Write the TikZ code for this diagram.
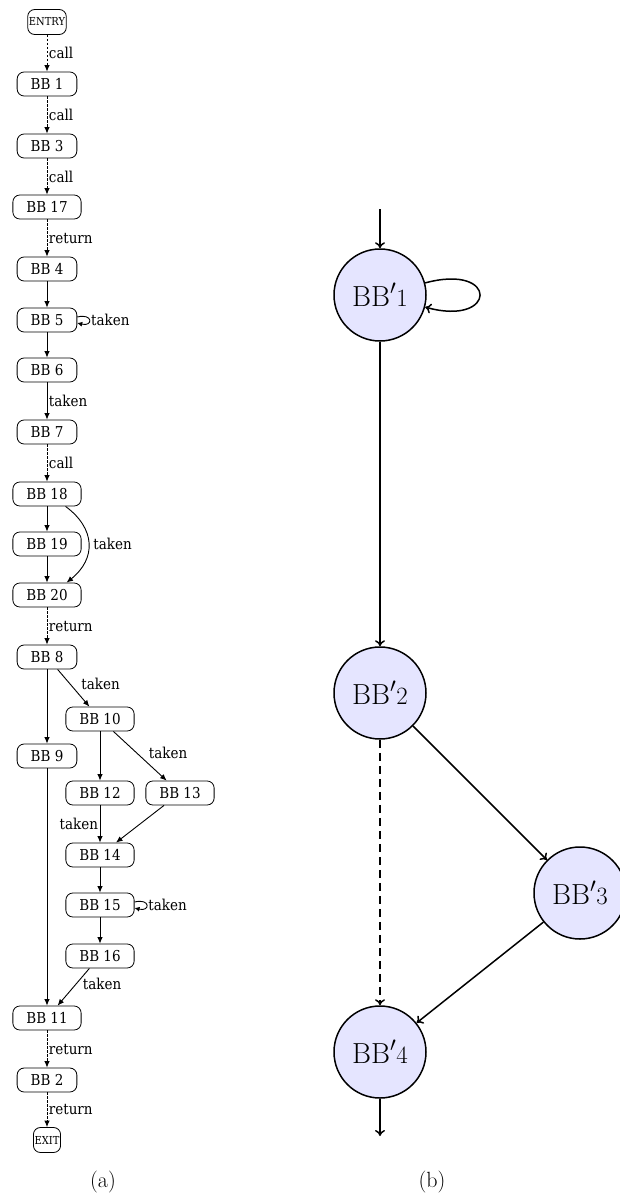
\documentclass[tikz,border=0pt]{standalone}
\usepackage{fontspec}
\newfontfamily\cfgfont{DejaVu Serif Condensed}
\usetikzlibrary{arrows.meta}

\begin{document}
\begin{tikzpicture}[x=1pt,y=-1pt,
  bb/.style={draw, rounded corners=7pt, line width=0.8pt, minimum height=24pt,
    inner xsep=13.5pt, inner ysep=0pt, font=\cfgfont\fontsize{15}{17}\selectfont},
  term/.style={draw, rounded corners=7pt, line width=0.8pt, minimum height=25pt,
    inner xsep=1.2pt, inner ysep=0pt, font=\cfgfont\fontsize{11}{12}\selectfont},
  flow/.style={line width=0.9pt, -{Latex[length=6.5pt,width=5.5pt]}},
  loopflow/.style={line width=0.9pt, -{Latex[length=5pt,width=5pt]}},
  callret/.style={flow, dash pattern=on 2.5pt off 1.5pt},
  lbl/.style={font=\cfgfont\fontsize{15}{17}\selectfont, inner sep=1.5pt},
  blk/.style={circle, draw, line width=1.5pt, fill=blue!10, minimum size=92pt,
    inner sep=0pt, font=\fontsize{29}{34}\selectfont},
  arc/.style={line width=1.5pt, -{To[length=6pt,width=10pt]}},
  capt/.style={font=\fontsize{22}{26}\selectfont},
]
\useasboundingbox (0,0) rectangle (619,1200);

% ---- (a) basic blocks of the program
\node[term] (entry) at (47,22)   {ENTRY};
\node[bb]   (n1)    at (47,84)   {BB 1};
\node[bb]   (n3)    at (47,146)  {BB 3};
\node[bb]   (n17)   at (47,207)  {BB 17};
\node[bb]   (n4)    at (47,269)  {BB 4};
\node[bb]   (n5)    at (47,320)  {BB 5};
\node[bb]   (n6)    at (47,370)  {BB 6};
\node[bb]   (n7)    at (47,432)  {BB 7};
\node[bb]   (n18)   at (47,494)  {BB 18};
\node[bb]   (n19)   at (47,544)  {BB 19};
\node[bb]   (n20)   at (47,595)  {BB 20};
\node[bb]   (n8)    at (47,657)  {BB 8};
\node[bb]   (n10)   at (100,719) {BB 10};
\node[bb]   (n9)    at (47,756)  {BB 9};
\node[bb]   (n12)   at (100,793) {BB 12};
\node[bb]   (n13)   at (180,793) {BB 13};
\node[bb]   (n14)   at (100,855) {BB 14};
\node[bb]   (n15)   at (100,905) {BB 15};
\node[bb]   (n16)   at (100,956) {BB 16};
\node[bb]   (n11)   at (47,1018) {BB 11};
\node[bb]   (n2)    at (47,1080) {BB 2};
\node[term] (exit)  at (47,1140) {EXIT};

% calls and returns
\draw[callret] (entry) -- node[lbl, right] {call} (n1);
\draw[callret] (n1) -- node[lbl, right] {call} (n3);
\draw[callret] (n3) -- node[lbl, right] {call} (n17);
\draw[callret] (n17) -- node[lbl, right] {return} (n4);
\draw[callret] (n7) -- node[lbl, right] {call} (n18);
\draw[callret] (n20) -- node[lbl, right] {return} (n8);
\draw[callret] (n11) -- node[lbl, right] {return} (n2);
\draw[callret] (n2) -- node[lbl, right] {return} (exit);

% ordinary control flow
\draw[flow] (n4) -- (n5);
\draw[loopflow] ([yshift=3pt]n5.east) .. controls +(16,-4) and +(16,4) ..
  node[lbl, right] {taken} ([yshift=-3pt]n5.east);
\draw[flow] (n5) -- (n6);
\draw[flow] (n6) -- node[lbl, right] {taken} (n7);
\draw[flow] (n18) -- (n19);
\draw[flow] (n19) -- (n20);
\draw[flow] ([xshift=-16pt]n18.south east) .. controls +(30,22) and +(30,-24) ..
  node[lbl, right, xshift=3pt] {taken} ([xshift=-15pt]n20.north east);
\draw[flow] (n8) -- node[lbl, right, xshift=6pt, yshift=4pt] {taken} (n10);
\draw[flow] (n8) -- (n9);
\draw[flow] (n10) -- (n12);
\draw[flow] (n10) -- node[lbl, right, xshift=7pt, yshift=3pt] {taken} (n13);
\draw[flow] (n12) -- node[lbl, left] {taken} (n14);
\draw[flow] (n13) -- (n14);
\draw[flow] (n14) -- (n15);
\draw[loopflow] ([yshift=3pt]n15.east) .. controls +(16,-4) and +(16,4) ..
  node[lbl, right] {taken} ([yshift=-3pt]n15.east);
\draw[flow] (n15) -- (n16);
\draw[flow] (n16) -- node[lbl, right, xshift=7.5pt, yshift=3pt] {taken} (n11);
\draw[flow] (n9) -- (n11);

\node[capt] (capa) at (103,1182) {(a)};

% ---- (b) merged blocks
\coordinate (in)  at (380,209);
\coordinate (out) at (380,1136);
\node[blk] (b1) at (380,295)  {$\mathrm{BB}'1$};
\node[blk] (b2) at (380,693)  {$\mathrm{BB}'2$};
\node[blk] (b3) at (580,893)  {$\mathrm{BB}'3$};
\node[blk] (b4) at (380,1052) {$\mathrm{BB}'4$};

\draw[arc] (in) -- (b1);
\draw[arc] (b1.15) .. controls +(74,-20) and +(72,20) .. (b1.-15);
\draw[arc] (b1) -- (b2);
\draw[arc] (b2) -- (b3);
\draw[arc, dash pattern=on 8pt off 5pt] (b2) -- (b4);
\draw[arc] (b3) -- (b4);
\draw[arc] (b4) -- (out);

\node[capt] (capb) at (432,1182) {(b)};
\end{tikzpicture}
\end{document}
